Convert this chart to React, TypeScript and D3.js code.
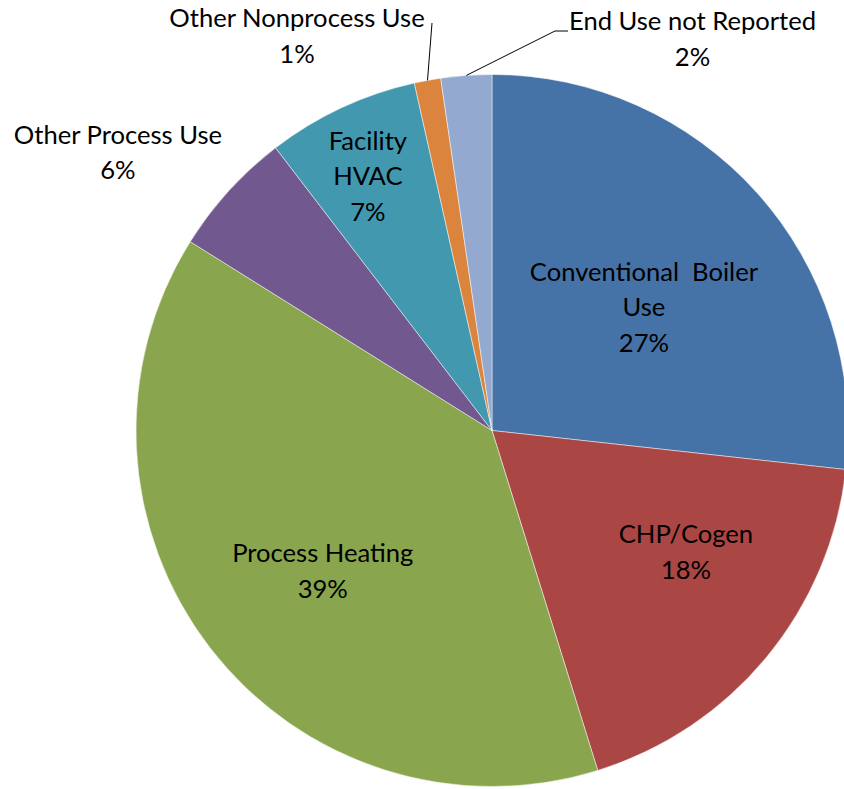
import React from "react";
import * as d3 from "d3";

// ---- data ----
const categories = [
  "Conventional Boiler Use",
  "CHP/Cogen",
  "Process Heating",
  "Other Process Use",
  "Facility HVAC",
  "Other Nonprocess Use",
  "End Use not Reported",
];
const values = [26.75, 18.45, 38.7, 5.7, 6.9, 1.2, 2.3];
const percentLabels = ["27%", "18%", "39%", "6%", "7%", "1%", "2%"];
const labelLines = [
  ["Conventional  Boiler", "Use"],
  ["CHP/Cogen"],
  ["Process Heating"],
  ["Other Process Use"],
  ["Facility", "HVAC"],
  ["Other Nonprocess Use"],
  ["End Use not Reported"],
];
const colors = ["#4572A7", "#AA4643", "#89A54E", "#71588F", "#4198AF", "#DB843D", "#93A9CF"];

// ---- layout ----
const W = 844;
const H = 789;
const CX = 492;
const CY = 430.5;
const R = 356;
const FONT = "Lato, 'Open Sans', sans-serif";
const FS = 25.6;
const LH = 35.5;
// label placement: polar relative to slice mid angle (deg offset, radius)
const labelPolar = [
  { da: 2.85, r: 195.5 },
  { da: -7.4, r: 229 },
  { da: -2.1, r: 220 },
  { da: -5.7, r: 466 },
  { da: -1.0, r: 283 },
  null,
  null,
];
// outside labels with leader lines (label centre, leader start)
const outsideLabels: Record<number, { x: number; y: number; lead: [number, number][] }> = {
  5: { x: 297, y: 36, lead: [[432, 23]] },
  6: { x: 692.5, y: 39, lead: [[568, 31], [555, 31]] },
};

export default function App() {
  const pie = d3
    .pie<number>()
    .sort(null)
    .value((d) => d);
  const arcs = pie(values);
  const arc = d3.arc<d3.PieArcDatum<number>>().innerRadius(0).outerRadius(R);

  const labels = arcs.map((a, i) => {
    const mid = (a.startAngle + a.endAngle) / 2;
    let cx: number, cy: number;
    const lines = [...labelLines[i], percentLabels[i]];
    let leader: string | null = null;
    if (labelPolar[i]) {
      const p = labelPolar[i]!;
      const ang = mid + (p.da * Math.PI) / 180;
      cx = CX + p.r * Math.sin(ang);
      cy = CY - p.r * Math.cos(ang);
    } else {
      const o = outsideLabels[i];
      cx = o.x;
      cy = o.y;
      const end: [number, number] = [CX + R * Math.sin(mid), CY - R * Math.cos(mid)];
      leader = d3.line()([...o.lead, end]) as string;
    }
    return { cx, cy, lines, leader, i };
  });

  return (
    <svg
      width={W}
      height={H}
      style={{ position: "absolute", left: 0, top: 0, background: "#fff" }}
      fontFamily={FONT}
    >
      <rect width={W} height={H} fill="#fff" />
      <g transform={`translate(${CX},${CY})`}>
        {arcs.map((a, i) => (
          <path key={categories[i]} d={arc(a) as string} fill={colors[i]} stroke="#fff" strokeOpacity={0.6} strokeWidth={0.8} />
        ))}
      </g>
      {labels.map((l) =>
        l.leader ? <path key={"ld" + l.i} d={l.leader} fill="none" stroke="#000" strokeWidth={1} /> : null
      )}
      {labels.map((l) => (
        <text key={"t" + l.i} textAnchor="middle" fontSize={FS} fill="#000" style={{ whiteSpace: "pre" }}>
          {l.lines.map((s, k) => (
            <tspan key={k} x={l.cx} y={l.cy + (k - (l.lines.length - 1) / 2) * LH + 9}>
              {s}
            </tspan>
          ))}
        </text>
      ))}
    </svg>
  );
}
